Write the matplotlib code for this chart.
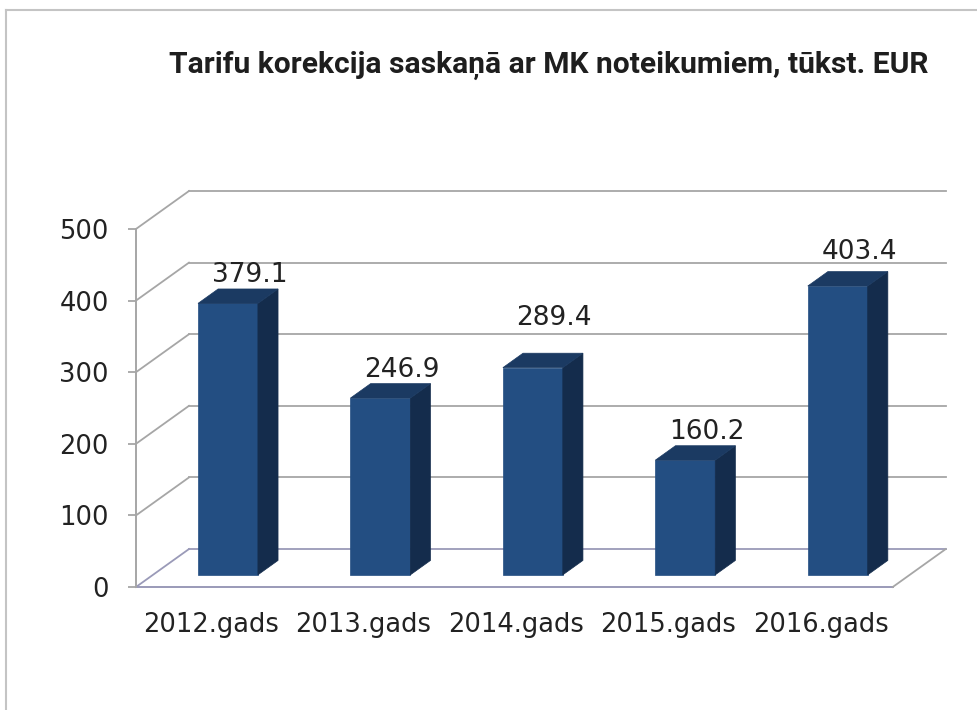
import matplotlib
matplotlib.use("Agg")
import matplotlib.pyplot as plt
from matplotlib.patches import Polygon
from matplotlib.lines import Line2D

# ---- data ----
categories = ["2012.gads", "2013.gads", "2014.gads", "2015.gads", "2016.gads"]
values = [379.1, 246.9, 289.4, 160.2, 403.4]
value_labels = ["379.1", "246.9", "289.4", "160.2", "403.4"]
yticks = [0, 100, 200, 300, 400, 500]
title = "Tarifu korekcija saskaņā ar MK noteikumiem, tūkst. EUR"

# ---- style / geometry ----
label_nudge_pt = [0, 0, 15, 0, 4]      # extra vertical offset for value labels
DX, DY = 0.3475, 53.0                   # full depth of the pseudo-3D box (data units)
F0, FD = 0.32, 0.38                     # bar front depth fraction, bar depth fraction
BAR_W = 0.393
X_LEFT, X_RIGHT = -0.492, 4.472         # front floor extent
front_col, side_col, top_col = "#234e82", "#142c4c", "#1b3a62"
grid_col = "#a6a6a6"
floor_col = "#9a9ab8"
txt_col = "#222222"

fig = plt.figure(figsize=(9.77, 7.10), dpi=100)
ax = fig.add_axes([136 / 977, 123 / 710, 822 / 977, 401 / 710])
ax.set_xlim(X_LEFT, 4.9)
ax.set_ylim(0, 560)

# outer frame (left + top only)
fig.add_artist(Line2D([6 / 977, 6 / 977], [0, 700 / 710], transform=fig.transFigure,
                      color="#c4c4c4", lw=1.5))
fig.add_artist(Line2D([6 / 977, 1], [700 / 710, 700 / 710], transform=fig.transFigure,
                      color="#c4c4c4", lw=1.5))

# back wall gridlines + left wall diagonals
for v in yticks:
    col = floor_col if v == 0 else grid_col
    ax.plot([X_LEFT, X_LEFT + DX], [v, v + DY], color=col, lw=1.3, zorder=1, clip_on=False)
    ax.plot([X_LEFT + DX, X_RIGHT + DX], [v + DY, v + DY], color=col, lw=1.3, zorder=1,
            clip_on=False)
# floor front edge and right diagonal
ax.plot([X_LEFT, X_RIGHT], [0, 0], color=floor_col, lw=1.4, zorder=1, clip_on=False)
ax.plot([X_RIGHT, X_RIGHT + DX], [0, DY], color=grid_col, lw=1.3, zorder=1, clip_on=False)

# bars
xs = list(range(len(categories)))
x_front = [x + F0 * DX for x in xs]
base = F0 * DY
ax.bar(x_front, values, width=BAR_W, bottom=base, color=front_col, zorder=3,
       edgecolor=front_col, linewidth=0.5)
d, dy = FD * DX, FD * DY
for xf, v in zip(x_front, values):
    x0, x1 = xf - BAR_W / 2, xf + BAR_W / 2
    top = base + v
    ax.add_patch(Polygon([(x1, base), (x1 + d, base + dy), (x1 + d, top + dy), (x1, top)],
                         closed=True, facecolor=side_col, edgecolor=side_col, lw=0.5,
                         zorder=3))
    ax.add_patch(Polygon([(x0, top), (x1, top), (x1 + d, top + dy), (x0 + d, top + dy)],
                         closed=True, facecolor=top_col, edgecolor=top_col, lw=0.5,
                         zorder=3))

# value labels
for xf, v, lab, nud in zip(x_front, values, value_labels, label_nudge_pt):
    ax.annotate(lab, xy=(xf + 0.14, base + v), xytext=(0, 15.5 + nud),
                textcoords="offset points", ha="center", va="baseline",
                fontsize=19, color=txt_col, zorder=5)

# axes styling
for s in ["top", "right", "bottom"]:
    ax.spines[s].set_visible(False)
ax.spines["left"].set_bounds(0, 500)
ax.spines["left"].set_color(grid_col)
ax.spines["left"].set_linewidth(1.4)
ax.set_yticks(yticks)
ax.set_yticklabels([str(t) for t in yticks])
ax.tick_params(axis="y", length=6, width=1.3, color=grid_col, pad=13.5,
               labelsize=18.5, labelcolor=txt_col)
ax.set_xticks(xs)
ax.set_xticklabels(categories)
ax.tick_params(axis="x", length=0, pad=18, labelsize=18.5, labelcolor=txt_col)
ax.patch.set_visible(False)

fig.text(549 / 977, 1 - 73 / 710, title, ha="center", va="baseline",
         fontsize=21.6, fontweight="bold", color="#1e1e1e",
         family=["Roboto", "DejaVu Sans"])

fig.savefig("out.png", dpi=100, facecolor="white")
